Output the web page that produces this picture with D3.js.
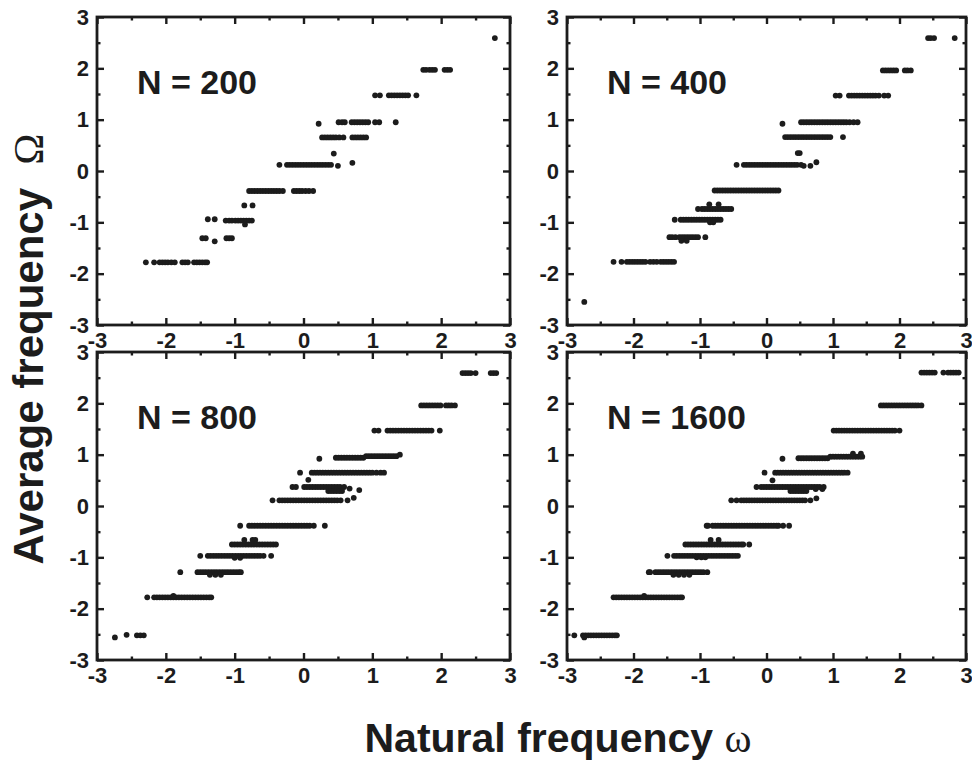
<!DOCTYPE html>
<html><head><meta charset="utf-8">
<script src="https://cdn.jsdelivr.net/npm/d3@7"></script>
<style>
html,body{margin:0;padding:0;background:#fff;}
svg{display:block;}
</style></head>
<body>
<svg id="chart" width="972" height="764"></svg>
<script>
// Tick values
const majorTicks = [-3, -2, -1, 0, 1, 2, 3];
const minorTicks = [-2.5, -1.5, -0.5, 0.5, 1.5, 2.5];
const panelLabels = ["N = 200", "N = 400", "N = 800", "N = 1600"];

// Each entry: [average frequency Omega, [natural frequencies omega]]
const n200 = [
  [2.59, [2.78]],
  [1.97, [1.74, 1.78, 1.83, 1.87, 1.91, 2.05, 2.09, 2.13]],
  [1.475, [1.04, 1.11, 1.24, 1.28, 1.32, 1.36, 1.40, 1.44, 1.48, 1.52, 1.64]],
  [0.95, [0.51, 0.56, 0.60, 0.70, 0.74, 0.78, 0.82, 0.86, 0.90, 0.94, 1.04, 1.10, 1.34]],
  [0.92, [0.22]],
  [0.655, [0.27, 0.31, 0.35, 0.39, 0.43, 0.47, 0.52, 0.58, 0.71, 0.75, 0.79, 0.83, 0.87, 0.91]],
  [0.34, [0.44]],
  [0.16, [0.71]],
  [0.12, [-0.35, -0.24, -0.20, -0.16, -0.12, -0.08, -0.04, 0.00, 0.04, 0.08, 0.12, 0.16, 0.20, 0.24, 0.28, 0.32, 0.36, 0.40]],
  [0.10, [0.50]],
  [-0.39, [-0.79, -0.75, -0.71, -0.67, -0.63, -0.59, -0.55, -0.51, -0.47, -0.43, -0.39, -0.35, -0.30, -0.14, -0.10, -0.06, -0.02, 0.03, 0.08, 0.14]],
  [-0.67, [-0.86, -0.74]],
  [-0.965, [-1.13, -1.08, -1.04, -0.99, -0.95, -0.91, -0.87, -0.83, -0.79, -0.75]],
  [-1.04, [-0.85]],
  [-0.94, [-1.39, -1.29]],
  [-1.31, [-1.47, -1.42, -1.12, -1.08, -1.04]],
  [-1.37, [-1.29]],
  [-1.78, [-2.29, -2.17, -2.09, -2.05, -2.01, -1.97, -1.92, -1.87, -1.76, -1.72, -1.68, -1.59, -1.55, -1.51, -1.47, -1.43, -1.40]]
];

const n400 = [
  [2.59, [2.43, 2.47, 2.52, 2.83]],
  [1.96, [1.75, 1.79, 1.83, 1.87, 1.91, 1.95, 2.08, 2.12, 2.17]],
  [1.47, [1.04, 1.10, 1.24, 1.28, 1.32, 1.36, 1.40, 1.44, 1.48, 1.52, 1.56, 1.60, 1.64, 1.69, 1.77, 1.83]],
  [0.92, [0.24]],
  [0.95, [0.52, 0.56, 0.60, 0.64, 0.68, 0.72, 0.76, 0.80, 0.84, 0.88, 0.92, 0.96, 1.00, 1.04, 1.08, 1.12, 1.16, 1.20, 1.25, 1.31, 1.37]],
  [0.66, [0.28, 0.32, 0.36, 0.40, 0.44, 0.48, 0.52, 0.56, 0.60, 0.64, 0.68, 0.72, 0.76, 0.80, 0.84, 0.88, 0.92, 0.96, 1.15]],
  [0.35, [0.47, 0.50]],
  [0.12, [-0.45, -0.34, -0.30, -0.26, -0.22, -0.18, -0.14, -0.10, -0.06, -0.02, 0.02, 0.06, 0.10, 0.14, 0.18, 0.22, 0.26, 0.30, 0.34, 0.38, 0.42, 0.46, 0.52]],
  [0.10, [0.56, 0.66]],
  [0.17, [0.75]],
  [-0.38, [-0.78, -0.74, -0.70, -0.66, -0.62, -0.58, -0.54, -0.50, -0.46, -0.42, -0.38, -0.34, -0.30, -0.26, -0.22, -0.18, -0.14, -0.10, -0.06, -0.02, 0.02, 0.06, 0.10, 0.14, 0.18]],
  [-0.74, [-1.03, -0.97, -0.93, -0.89, -0.85, -0.81, -0.77, -0.73, -0.69, -0.65, -0.61, -0.57, -0.53]],
  [-0.65, [-0.86, -0.72]],
  [-0.95, [-1.38, -1.29, -1.25, -1.21, -1.17, -1.13, -1.09, -1.05, -1.01, -0.97, -0.93, -0.89, -0.85, -0.81, -0.77, -0.73, -0.69]],
  [-1.00, [-0.85, -0.80]],
  [-1.29, [-1.46, -1.42, -1.37, -1.31, -1.27, -1.23, -1.19, -1.15, -1.11, -1.07, -1.03, -0.92]],
  [-1.36, [-1.28, -1.20]],
  [-1.77, [-2.30, -2.18, -2.10, -2.06, -2.02, -1.98, -1.94, -1.90, -1.86, -1.82, -1.75, -1.70, -1.65, -1.59, -1.55, -1.51, -1.47, -1.43, -1.39]],
  [-2.55, [-2.74]]
];

const n800 = [
  [2.59, [2.31, 2.35, 2.39, 2.43, 2.50, 2.72, 2.76, 2.80]],
  [1.96, [1.71, 1.75, 1.79, 1.83, 1.87, 1.91, 1.95, 1.99, 2.07, 2.11, 2.15, 2.20]],
  [1.47, [1.03, 1.09, 1.22, 1.26, 1.30, 1.34, 1.38, 1.42, 1.46, 1.50, 1.54, 1.58, 1.62, 1.66, 1.70, 1.74, 1.78, 1.82, 1.86, 1.98]],
  [0.92, [0.23]],
  [0.94, [0.47, 0.51, 0.55, 0.59, 0.63, 0.67, 0.71, 0.75, 0.79, 0.83, 0.87]],
  [0.97, [0.91, 0.95, 0.99, 1.03, 1.07, 1.11, 1.15, 1.19, 1.23, 1.27, 1.31, 1.35]],
  [1.00, [1.40]],
  [0.65, [-0.05, 0.12, 0.16, 0.20, 0.24, 0.28, 0.32, 0.36, 0.40, 0.44, 0.48, 0.52, 0.56, 0.60, 0.64, 0.68, 0.72, 0.76, 0.80, 0.84, 0.88, 0.92, 0.96, 1.00, 1.06, 1.12, 1.17]],
  [0.51, [0.07]],
  [0.37, [-0.16, -0.11, 0.01, 0.05, 0.09, 0.13, 0.17, 0.21, 0.25, 0.29, 0.33, 0.37, 0.41, 0.45, 0.49, 0.53, 0.59]],
  [0.29, [0.36, 0.40, 0.44, 0.48, 0.52, 0.56]],
  [0.34, [0.67]],
  [0.31, [0.81]],
  [0.11, [-0.45, -0.35, -0.31, -0.27, -0.23, -0.19, -0.15, -0.11, -0.07, -0.03, 0.01, 0.05, 0.09, 0.13, 0.17, 0.21, 0.25, 0.29, 0.33, 0.37, 0.41, 0.45, 0.49, 0.54, 0.64]],
  [0.16, [0.73]],
  [-0.385, [-0.92, -0.79, -0.75, -0.71, -0.67, -0.63, -0.59, -0.55, -0.51, -0.47, -0.43, -0.39, -0.35, -0.31, -0.27, -0.23, -0.19, -0.15, -0.11, -0.07, -0.03, 0.01, 0.05, 0.09, 0.15, 0.31]],
  [-0.75, [-1.04, -1.00, -0.96, -0.92, -0.88, -0.84, -0.80, -0.76, -0.72, -0.68, -0.64, -0.60, -0.56, -0.52, -0.48, -0.44, -0.40]],
  [-0.66, [-0.86, -0.74, -0.70]],
  [-0.97, [-1.50, -1.39, -1.35, -1.31, -1.27, -1.23, -1.19, -1.15, -1.11, -1.07, -1.03, -0.99, -0.95, -0.91, -0.87, -0.83, -0.79, -0.75, -0.71, -0.67, -0.63, -0.58, -0.47]],
  [-1.01, [-1.00, -0.92]],
  [-1.29, [-1.79, -1.54, -1.50, -1.46, -1.42, -1.38, -1.34, -1.30, -1.26, -1.22, -1.18, -1.14, -1.10, -1.06, -1.02, -0.98, -0.94, -0.91]],
  [-1.34, [-1.36, -1.28, -1.20]],
  [-1.78, [-2.27, -2.17, -2.13, -2.09, -2.05, -2.01, -1.97, -1.93, -1.89, -1.85, -1.81, -1.77, -1.73, -1.69, -1.65, -1.61, -1.57, -1.53, -1.49, -1.45, -1.41, -1.37, -1.34]],
  [-1.75, [-1.89]],
  [-2.52, [-2.42, -2.37, -2.32]],
  [-2.56, [-2.74]],
  [-2.51, [-2.57]]
];

const n1600 = [
  [2.60, [2.33, 2.37, 2.41, 2.45, 2.49, 2.53, 2.66, 2.73, 2.77, 2.81, 2.85, 2.89]],
  [1.96, [1.72, 1.76, 1.80, 1.84, 1.88, 1.92, 1.96, 2.00, 2.04, 2.08, 2.12, 2.16, 2.20, 2.24, 2.28, 2.33]],
  [1.47, [1.01, 1.05, 1.09, 1.13, 1.17, 1.21, 1.25, 1.29, 1.33, 1.37, 1.41, 1.45, 1.49, 1.53, 1.57, 1.61, 1.65, 1.69, 1.73, 1.77, 1.81, 1.85, 1.89, 1.93, 2.00]],
  [0.92, [0.24]],
  [0.93, [0.48, 0.52, 0.56, 0.60, 0.64, 0.68, 0.72, 0.76, 0.80, 0.84, 0.88, 0.92]],
  [0.96, [0.96, 1.00, 1.04, 1.08, 1.12, 1.16, 1.20, 1.24, 1.28, 1.32, 1.36, 1.40, 1.44]],
  [1.02, [1.30, 1.42]],
  [0.65, [-0.03, 0.13, 0.17, 0.21, 0.25, 0.29, 0.33, 0.37, 0.41, 0.45, 0.49, 0.53, 0.57, 0.61, 0.65, 0.69, 0.73, 0.77, 0.81, 0.85, 0.89, 0.93, 0.97, 1.01, 1.05, 1.09, 1.13, 1.17, 1.22]],
  [0.50, [0.09]],
  [0.37, [-0.15, -0.08, -0.04, 0.00, 0.04, 0.08, 0.12, 0.16, 0.20, 0.24, 0.28, 0.32, 0.36, 0.40, 0.44, 0.48, 0.52, 0.56, 0.60, 0.64, 0.68, 0.72, 0.76, 0.80, 0.86]],
  [0.29, [0.36, 0.40, 0.44, 0.48, 0.52, 0.56, 0.60]],
  [0.33, [0.74, 0.84]],
  [0.11, [-0.53, -0.45, -0.38, -0.34, -0.30, -0.26, -0.22, -0.18, -0.14, -0.10, -0.06, -0.02, 0.02, 0.06, 0.10, 0.14, 0.18, 0.22, 0.26, 0.30, 0.34, 0.38, 0.42, 0.46, 0.50, 0.54, 0.58, 0.66]],
  [0.15, [0.75]],
  [-0.385, [-0.90, -0.88, -0.81, -0.77, -0.73, -0.69, -0.65, -0.61, -0.57, -0.53, -0.49, -0.45, -0.41, -0.37, -0.33, -0.29, -0.25, -0.21, -0.17, -0.13, -0.09, -0.05, -0.01, 0.03, 0.07, 0.11, 0.15, 0.18, 0.25, 0.34]],
  [-0.75, [-1.22, -1.18, -1.14, -1.10, -1.06, -1.02, -0.98, -0.94, -0.90, -0.86, -0.82, -0.78, -0.74, -0.70, -0.66, -0.62, -0.58, -0.54, -0.50, -0.46, -0.42, -0.38, -0.35, -0.26]],
  [-0.66, [-0.84, -0.72]],
  [-0.97, [-1.49, -1.39, -1.35, -1.31, -1.27, -1.23, -1.19, -1.15, -1.11, -1.07, -1.03, -0.99, -0.95, -0.91, -0.87, -0.83, -0.79, -0.75, -0.71, -0.67, -0.63, -0.59, -0.55, -0.51, -0.47, -0.43]],
  [-1.00, [-1.05, -0.98, -0.92]],
  [-1.29, [-1.77, -1.75, -1.67, -1.63, -1.59, -1.55, -1.51, -1.47, -1.43, -1.39, -1.35, -1.31, -1.27, -1.23, -1.19, -1.15, -1.11, -1.07, -1.03, -0.99, -0.95, -0.89]],
  [-1.34, [-1.40, -1.32, -1.24, -1.16]],
  [-1.78, [-2.30, -2.26, -2.22, -2.18, -2.14, -2.10, -2.06, -2.02, -1.98, -1.94, -1.90, -1.86, -1.82, -1.78, -1.74, -1.70, -1.66, -1.62, -1.58, -1.54, -1.50, -1.46, -1.42, -1.38, -1.34, -1.30, -1.27]],
  [-1.75, [-1.84]],
  [-2.52, [-2.89, -2.76, -2.72, -2.68, -2.64, -2.60, -2.56, -2.52, -2.48, -2.44, -2.40, -2.36, -2.32, -2.28, -2.25]],
  [-2.56, [-2.74]]
];

const datasets = [n200, n400, n800, n1600];

// layout (pixel boxes of the four frames)
const boxes = [
  {x0: 97, x1: 510, y0: 17, y1: 325},
  {x0: 567, x1: 966, y0: 17, y1: 325},
  {x0: 97, x1: 510, y0: 352, y1: 660},
  {x0: 567, x1: 966, y0: 352, y1: 660}
];

const ink = "#1c1c1c";
const svg = d3.select("#chart");
const sansFont = "'Liberation Sans', Arial, Helvetica, sans-serif";
const serifFont = "'Liberation Serif', 'Times New Roman', serif";

boxes.forEach((b, i) => {
  const x = d3.scaleLinear().domain([-3, 3]).range([b.x0, b.x1]);
  const y = d3.scaleLinear().domain([-3, 3]).range([b.y1, b.y0]);
  const g = svg.append("g");

  // points
  const pts = [];
  datasets[i].forEach(([W, ws]) => ws.forEach(w => pts.push([w, W])));
  g.append("g").selectAll("circle").data(pts).join("circle")
    .attr("cx", d => x(d[0])).attr("cy", d => y(d[1]))
    .attr("r", 2.9).attr("fill", ink);

  const fmt = d => String(d);

  const mk = (axis, tf, t) => {
    const a = g.append("g").attr("transform", t).call(axis.tickFormat(tf));
    a.attr("font-size", 22).attr("font-family", sansFont).attr("font-weight", "bold");
    a.select(".domain").remove();
    a.selectAll(".tick line").attr("stroke", ink).attr("stroke-width", 2.4);
    a.selectAll("text").attr("fill", ink)
      .style("font-family", sansFont).style("font-weight", "bold").style("font-size", "22px");
    return a;
  };
  mk(d3.axisBottom(x).tickValues(majorTicks).tickSize(-7).tickPadding(7), fmt, `translate(0,${b.y1})`);
  mk(d3.axisBottom(x).tickValues(minorTicks).tickSize(-3.5), "", `translate(0,${b.y1})`);
  mk(d3.axisTop(x).tickValues(majorTicks).tickSize(-7), "", `translate(0,${b.y0})`);
  mk(d3.axisTop(x).tickValues(minorTicks).tickSize(-3.5), "", `translate(0,${b.y0})`);
  mk(d3.axisLeft(y).tickValues(majorTicks).tickSize(-7).tickPadding(8), fmt, `translate(${b.x0},0)`);
  mk(d3.axisLeft(y).tickValues(minorTicks).tickSize(-3.5), "", `translate(${b.x0},0)`);
  mk(d3.axisRight(y).tickValues(majorTicks).tickSize(-7), "", `translate(${b.x1},0)`);
  mk(d3.axisRight(y).tickValues(minorTicks).tickSize(-3.5), "", `translate(${b.x1},0)`);

  // frame
  g.append("rect").attr("x", b.x0).attr("y", b.y0)
    .attr("width", b.x1 - b.x0).attr("height", b.y1 - b.y0)
    .attr("fill", "none").attr("stroke", ink).attr("stroke-width", 2.8);

  // panel label
  g.append("text").attr("x", b.x0 + 40).attr("y", b.y0 + 77)
    .attr("fill", ink)
    .style("font-family", sansFont).style("font-weight", "bold").style("font-size", "34px")
    .text(panelLabels[i]);
});

// axis titles
const xt = svg.append("text").attr("x", 558).attr("y", 752).attr("text-anchor", "middle")
  .attr("fill", ink).style("font-family", sansFont).style("font-weight", "bold").style("font-size", "41px");
xt.append("tspan").text("Natural frequency ");
xt.append("tspan").style("font-family", serifFont).style("font-weight", "normal").text("ω");

const yt = svg.append("text").attr("transform", "translate(43,349) rotate(-90)").attr("text-anchor", "middle")
  .attr("fill", ink).style("font-family", sansFont).style("font-weight", "bold").style("font-size", "42px");
yt.append("tspan").text("Average frequency\u00a0 ");
yt.append("tspan").style("font-family", serifFont).style("font-weight", "normal").text("Ω");
</script>
</body></html>
